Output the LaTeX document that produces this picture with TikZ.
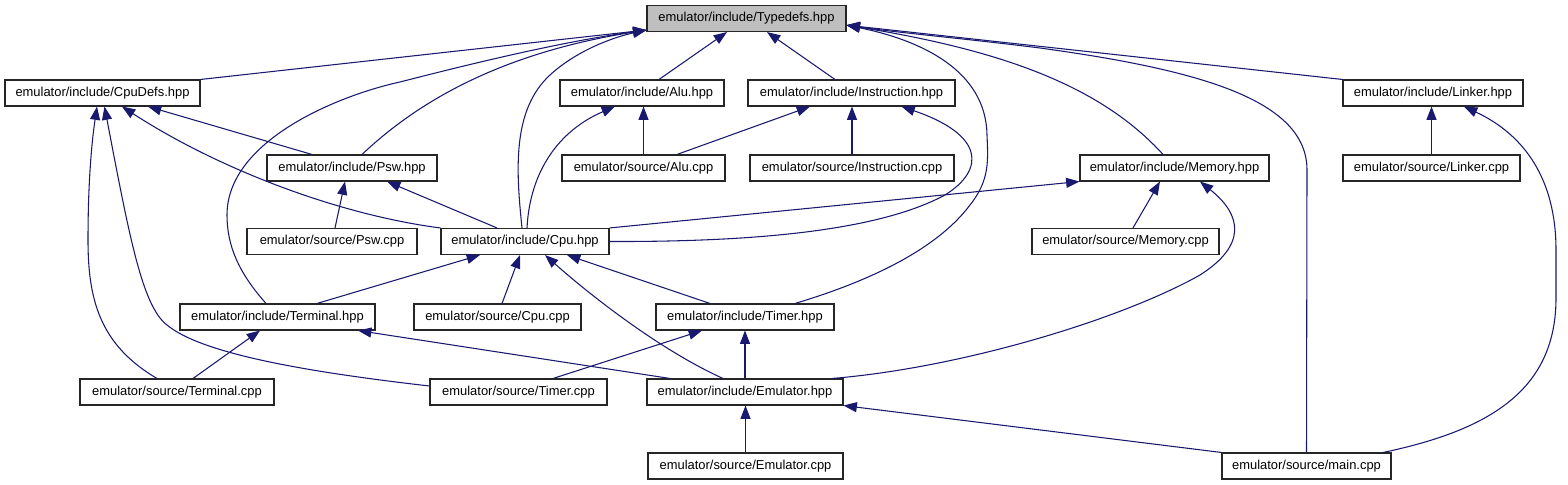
\documentclass[tikz,border=0pt]{standalone}
\usepackage{fontspec}
\setmainfont{Liberation Sans}
\usepackage{xcolor}
\usepackage{tikz}
\usetikzlibrary{arrows.meta}
\definecolor{edge}{RGB}{25,25,112}
\definecolor{rootfill}{RGB}{191,191,191}

\begin{document}
\begin{tikzpicture}[
  x=0.75pt, y=-0.75pt,
  file/.style={draw=black!85, line width=0.8pt, fill=white, minimum height=19.5pt,
               inner sep=0pt, font=\fontsize{9.7}{11}\selectfont},
  root/.style={file, fill=rootfill},
  boxw/.style={minimum width=#1*0.75pt},
  dep/.style={-{Triangle[length=10pt, width=7.5pt]}, draw=edge, fill=none, line width=0.8pt}
]
  \useasboundingbox (0,0) rectangle (1568,485);

  \node[root, boxw=199] (typedefs) at (746.5,18.5) {emulator/include/Typedefs.hpp};

  \node[file, boxw=195] (cpudefs) at (102.5,93) {emulator/include/CpuDefs.hpp};
  \node[file, boxw=164] (alu) at (642,93) {emulator/include/Alu.hpp};
  \node[file, boxw=207] (instr) at (851.5,93) {emulator/include/Instruction.hpp};
  \node[file, boxw=180] (linker) at (1433,93) {emulator/include/Linker.hpp};

  \node[file, boxw=170] (psw) at (352,168) {emulator/include/Psw.hpp};
  \node[file, boxw=163] (alucpp) at (643.5,168) {emulator/source/Alu.cpp};
  \node[file, boxw=204] (instrcpp) at (852,168) {emulator/source/Instruction.cpp};
  \node[file, boxw=189] (memory) at (1174.5,168) {emulator/include/Memory.hpp};
  \node[file, boxw=177] (linkercpp) at (1431.5,168) {emulator/source/Linker.cpp};

  \node[file, boxw=170] (pswcpp) at (332,241.5) {emulator/source/Psw.cpp};
  \node[file, boxw=168] (cpu) at (525,241.5) {emulator/include/Cpu.hpp};
  \node[file, boxw=187] (memorycpp) at (1125.5,241.5) {emulator/source/Memory.cpp};

  \node[file, boxw=195] (terminal) at (277.5,317) {emulator/include/Terminal.hpp};
  \node[file, boxw=167] (cpucpp) at (497.5,317) {emulator/source/Cpu.cpp};
  \node[file, boxw=178] (timer) at (745,317) {emulator/include/Timer.hpp};

  \node[file, boxw=194] (terminalcpp) at (177,392) {emulator/source/Terminal.cpp};
  \node[file, boxw=177] (timercpp) at (518.5,392) {emulator/source/Timer.cpp};
  \node[file, boxw=196] (emulator) at (745,392) {emulator/include/Emulator.hpp};

  \node[file, boxw=195] (emulatorcpp) at (745.5,466) {emulator/source/Emulator.cpp};
  \node[file, boxw=169] (main) at (1306.5,466) {emulator/source/main.cpp};

  % includes of Typedefs.hpp
  \draw[dep] (cpudefs.north east) -- ([yshift=1.5pt]typedefs.south west);
  \draw[dep] ([xshift=7.5pt]psw.north) .. controls (430,90) and (520,50) .. ([yshift=1.5pt]typedefs.south west);
  \draw[dep] ([xshift=-8.6pt]terminal.north) .. controls (238,272) and (227,245) .. (227,215)
    .. controls (227,140) and (340,95) .. (400,82) .. controls (470,64) and (560,42) .. ([yshift=1.5pt]typedefs.south west);
  \draw[dep] ([xshift=-2.25pt]cpu.north) .. controls (516,170) and (512,110) .. (550,75)
    .. controls (575,52) and (610,38) .. ([yshift=1.5pt]typedefs.south west);
  \draw[dep] ([xshift=12.75pt]alu.north) -- ([xshift=-14.6pt]typedefs.south);
  \draw[dep] ([xshift=-12.4pt]instr.north) -- ([xshift=15.4pt]typedefs.south);
  \draw[dep] ([xshift=37.5pt]timer.north) .. controls (880,278) and (940,245) .. (970,205)
    .. controls (990,180) and (988,160) .. (987,135) .. controls (986,70) and (920,40) .. ([yshift=-5pt]typedefs.east);
  \draw[dep] ([xshift=-8.6pt]memory.north) .. controls (1100,85) and (1000,50) .. ([yshift=-5pt]typedefs.east);
  \draw[dep] (linker.north west) -- ([yshift=-5pt]typedefs.east);
  \draw[dep] (main.north) -- (1307,170) .. controls (1307,100) and (1200,70) .. (1040,48)
    .. controls (960,38) and (900,33) .. ([yshift=-5pt]typedefs.east);

  % includes of CpuDefs.hpp
  \draw[dep] ([xshift=-30pt]psw.north) -- ([xshift=34.1pt]cpudefs.south);
  \draw[dep] (cpu.north west) .. controls (340,215) and (220,170) .. ([xshift=14.6pt]cpudefs.south);
  \draw[dep] ([xshift=-15pt]terminalcpp.north) .. controls (100,345) and (88,300) .. (88,240)
    .. controls (88,180) and (92,140) .. ([xshift=-4.1pt]cpudefs.south);
  \draw[dep] ([yshift=4.5pt]timercpp.west) .. controls (290,370) and (185,350) .. (160,318)
    .. controls (140,292) and (128,230) .. ([xshift=1.5pt]cpudefs.south);

  \draw[dep] ([xshift=2.25pt]pswcpp.north) -- ([xshift=-5.25pt]psw.south);
  \draw[dep] ([xshift=-21pt]cpu.north) -- ([xshift=26.25pt]psw.south);

  \draw[dep] (alucpp.north) -- (alucpp.north |- alu.south);
  \draw[dep] ([xshift=1.5pt]cpu.north) .. controls (530,170) and (560,130) .. ([xshift=-20.25pt]alu.south);

  \draw[dep] ([xshift=25.1pt]alucpp.north) -- ([xshift=-31.1pt]instr.south);
  \draw[dep] (instrcpp.north) -- (instrcpp.north |- instr.south);
  \draw[dep] (cpu.east) .. controls (760,242) and (880,230) .. (945,195)
    .. controls (985,170) and (985,135) .. ([xshift=37.5pt]instr.south);

  \draw[dep] (cpu.north east) -- (memory.south west);
  \draw[dep] ([xshift=5.6pt]memorycpp.north) -- ([xshift=-10.9pt]memory.south);
  \draw[dep] ([xshift=65.25pt]emulator.north) .. controls (960,368) and (1120,320) .. (1200,275)
    .. controls (1247,245) and (1242,215) .. ([xshift=19.1pt]memory.south);

  \draw[dep] (linkercpp.north) -- (linkercpp.north |- linker.south);
  \draw[dep] ([xshift=57.4pt]main.north) .. controls (1490,430) and (1555,390) .. (1556,300) -- (1556,250)
    .. controls (1556,180) and (1525,135) .. ([xshift=23.25pt]linker.south);

  % includes of Cpu.hpp and the rest
  \draw[dep] ([xshift=29.6pt]terminal.north) -- ([xshift=-33.75pt]cpu.south);
  \draw[dep] ([xshift=3.4pt]cpucpp.north) -- ([xshift=-3.75pt]cpu.south);
  \draw[dep] ([xshift=-26.25pt]timer.north) -- ([xshift=31.5pt]cpu.south);
  \draw[dep] ([xshift=-16.5pt]emulator.north) .. controls (660,350) and (590,295) .. ([xshift=15pt]cpu.south);

  \draw[dep] ([xshift=12pt]terminalcpp.north) -- ([xshift=-13.1pt]terminal.south);
  \draw[dep] ([xshift=-56.25pt]emulator.north) -- ([xshift=60.4pt]terminal.south);

  \draw[dep] ([xshift=25.9pt]timercpp.north) -- ([xshift=-32.25pt]timer.south);
  \draw[dep] (emulator.north) -- (timer.south);

  \draw[dep] (emulatorcpp.north) -- (emulatorcpp.north |- emulator.south);
  \draw[dep] (main.north west) -- (emulator.south east);
\end{tikzpicture}
\end{document}
